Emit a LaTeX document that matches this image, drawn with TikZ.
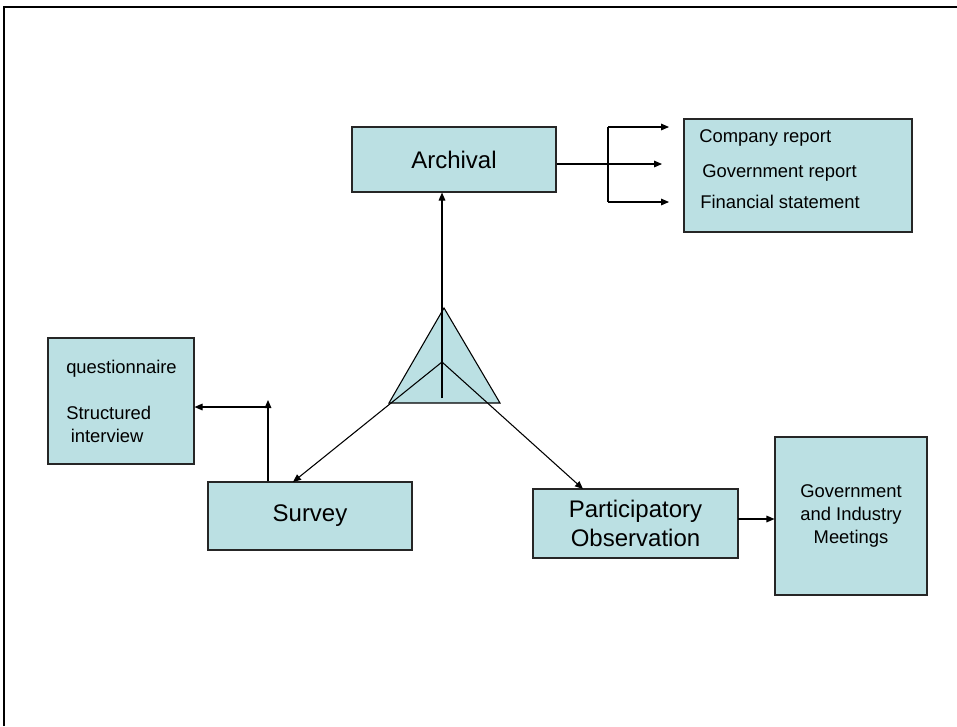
\documentclass[tikz,border=0pt]{standalone}
\usepackage{fontspec}
\setmainfont{Liberation Sans}
\usetikzlibrary{arrows.meta}
\definecolor{boxfill}{RGB}{187,224,227}
\tikzset{
  box/.style={draw=black!85, line width=0.8pt, fill=boxfill, inner sep=0pt, align=center},
  big/.style={font=\fontsize{18pt}{21.5pt}\selectfont},
  small/.style={font=\fontsize{13.8pt}{17pt}\selectfont},
  label/.style={small, inner sep=0pt, anchor=base west},
  arr/.style={-{Triangle[length=6pt,width=5pt]}, line width=0.8pt},
  link/.style={line width=0.8pt}
}
\begin{document}
\begin{tikzpicture}[x=0.75pt, y=-0.75pt]
\useasboundingbox (0,0) rectangle (957,726);
% page frame
\draw[line width=1.6pt] (4,726) -- (4,7) -- (957,7);

% boxes
\node[box, big, minimum width=153pt, minimum height=48.75pt] (arch) at (454,159.5) {Archival};
\node[box, minimum width=171pt, minimum height=84.75pt] (docs) at (798,175.5) {};
\node[box, minimum width=109.5pt, minimum height=94.5pt] (quest) at (121,401) {};
\node[box, big, minimum width=153pt, minimum height=51pt] (survey) at (310,516) {Survey};
\node[box, big, minimum width=153.75pt, minimum height=51.75pt] (part) at (635.5,523.5) {Participatory\\Observation};
\node[box, small, font=\fontsize{13.8pt}{16.9pt}\selectfont, minimum width=114pt, minimum height=118.5pt] (meet) at (851,516) {Government\\and Industry\\Meetings};

% texts inside the document box
\node[label] (t1) at (699,142) {Company report};
\node[label] (t2) at (702,177) {Government report};
\node[label] (t3) at (700,208) {Financial statement};

% texts inside the questionnaire box
\node[label] (q1) at (66,373) {questionnaire};
\node[label] (q2) at (66,419) {Structured};
\node[label] (q3) at (70.5,442) {interview};

% central triangle
\coordinate (apex) at (444,308);
\coordinate (bl) at (389,403);
\coordinate (br) at (500,403);
\coordinate (ctr) at (442,362);
\coordinate (vbot) at (442,398);
\draw[link, fill=boxfill] (apex) -- (bl) -- (br) -- cycle;

% spokes from the triangle
\draw[arr] (vbot) -- (vbot |- arch.south);
\coordinate (stip) at (293,482);
\coordinate (ptip) at (583,489);
\draw[arr] (ctr) -- (stip);
\draw[arr] (ctr) -- (ptip);

% archival to documents
\coordinate (amid) at (662,164);
\draw[arr] (arch.east |- amid) -- (amid);
\coordinate (btop) at (608,127);
\coordinate (bbot) at (608,202);
\coordinate (ttip) at (669,127);
\coordinate (btip) at (669,202);
\draw[arr] (btop) -- (ttip);
\draw[link] (btop) -- (bbot);
\draw[arr] (bbot) -- (btip);

% survey to questionnaire
\coordinate (sup1) at (268,400);
\coordinate (sjoin) at (268,407);
\draw[arr] (survey.north -| sup1) -- (sup1);
\draw[arr] (sjoin) -- (quest.east |- sjoin);

% participatory observation to meetings
\coordinate (pm) at (738,519);
\draw[arr] (pm) -- (meet.west |- pm);
\end{tikzpicture}
\end{document}
